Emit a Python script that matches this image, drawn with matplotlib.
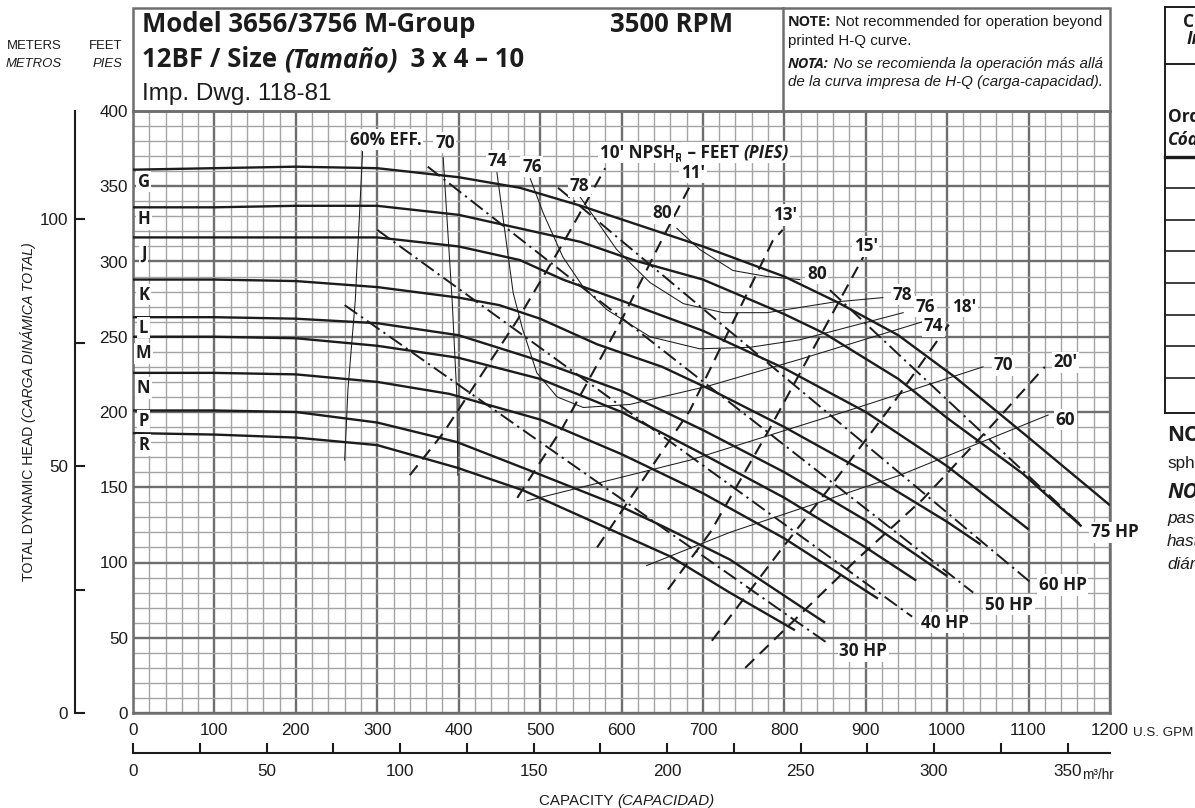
import matplotlib
matplotlib.use('Agg')
import matplotlib.pyplot as plt
from matplotlib import font_manager
from matplotlib.patches import Rectangle
from matplotlib.lines import Line2D
import numpy as np

W, H = 1195, 808

# ---------------- data: capacity in U.S. GPM, head in feet ----------------
gpm_ticks = np.arange(0, 1201, 100)
ft_ticks = np.arange(0, 401, 50)
m_ticks = [0, 50, 100]
m3_ticks = np.arange(0, 351, 25)
GPM_PER_M3H = 3.28          # scale printed on the chart's lower axis
FT_PER_M = 3.28084

# impeller H-Q curves
G_q = [0, 100, 200, 300, 400, 475, 550, 600, 700, 800, 865, 940, 1010, 1100, 1200]
G_h = [361, 362, 363, 362, 356, 349, 337, 328, 310, 290, 273, 251, 223, 183, 138]
H_q = [0, 100, 200, 300, 400, 475, 550, 614, 700, 800, 850, 940, 1000, 1093, 1165]
H_h = [336, 336, 337, 337, 331, 322, 313, 301, 288, 265, 252, 222, 196, 159, 124]
J_q = [0, 100, 200, 300, 400, 475, 528, 600, 650, 700, 800, 900, 1000, 1100]
J_h = [316, 316, 316, 316, 310, 301, 288, 274, 264, 254, 229, 200, 164, 122]
K_q = [0, 100, 200, 300, 400, 450, 500, 570, 650, 709, 800, 900, 1000, 1041]
K_h = [288, 288, 287, 283, 276, 271, 262, 245, 230, 215, 190, 160, 127, 112]
L_q = [0, 100, 200, 300, 400, 488, 600, 700, 800, 900, 1000]
L_h = [263, 263, 262, 259, 251, 236, 214, 188, 160, 128, 91]
M_q = [0, 100, 200, 300, 400, 500, 600, 700, 800, 900, 962]
M_h = [250, 250, 249, 244, 236, 222, 200, 172, 143, 110, 88]
N_q = [0, 100, 200, 300, 389, 500, 600, 700, 800, 915]
N_h = [226, 226, 225, 220, 212, 195, 172, 146, 116, 76]
P_q = [0, 100, 200, 300, 398, 488, 600, 651, 733, 850]
P_h = [201, 201, 200, 193, 180, 161, 137, 124, 102, 60]
R_q = [0, 100, 200, 300, 398, 479, 586, 660, 733, 813]
R_h = [186, 185, 183, 178, 163, 148, 122, 104, 80, 55]
impellers = ['G', 'H', 'J', 'K', 'L', 'M', 'N', 'P', 'R']
imp_label_h = [353, 328, 305, 278, 256, 239, 216, 194, 178]

# horsepower lines
hp_names = ['30 HP', '40 HP', '50 HP', '60 HP', '75 HP']
hp_q0 = [260, 300, 362, 522, 856]
hp_h0 = [271, 321, 363, 349, 281]
hp_q1 = [854, 957, 1032, 1102, 1166]
hp_h1 = [46, 64, 80, 87, 124]
hp_label_q = [897, 997, 1076, 1142, 1206]
hp_label_h = [41, 60, 72, 85, 120]

# efficiency curves
e60a_q = [282, 273, 264, 260]
e60a_h = [373, 274, 215, 168]
e70a_q = [381, 392, 398, 399]
e70a_h = [369, 274, 208, 158]
e74_q = [447, 467, 478, 496, 521, 553, 610, 705, 819, 970]
e74_h = [359, 279, 256, 226, 210, 203, 205, 217, 235, 260]
e76_q = [488, 504, 528, 553, 582, 635, 696, 758, 819, 946]
e76_h = [355, 332, 303, 283, 268, 250, 242, 243, 248, 266]
e78_q = [549, 594, 635, 676, 725, 779, 860, 921]
e78_h = [343, 308, 286, 272, 266, 266, 273, 276]
e80_q = [668, 696, 737, 779, 819]
e80_h = [322, 308, 294, 290, 288]
e70b_q = [484, 684, 879, 1044]
e70b_h = [141, 168, 201, 230]
e60b_q = [631, 733, 942, 1124]
e60b_h = [98, 120, 158, 198]
eff_labels = ['60% EFF.', '70', '74', '76', '78', '80', '80', '78', '76', '74', '70', '60']
eff_label_q = [310, 383, 448, 490, 548, 650, 840, 945, 973, 983, 1069, 1145]
eff_label_h = [381, 379, 367, 363, 350, 332, 292, 278, 270, 257, 231, 195]

# NPSH required lines (feet)
n10_q = [340, 381, 472, 528, 580]
n10_h = [158, 186, 261, 312, 362]
n11_q = [472, 528, 598, 651, 684]
n11_h = [143, 190, 259, 316, 350]
n13_q = [570, 684, 786, 798]
n13_h = [110, 201, 314, 321]
n15_q = [657, 709, 779, 897]
n15_h = [82, 120, 186, 303]
n18_q = [711, 798, 856, 930, 1007]
n18_h = [48, 110, 150, 203, 262]
n20_q = [752, 889, 970, 1053, 1120]
n20_h = [30, 102, 142, 190, 230]
npsh_labels = ["11'", "13'", "15'", "18'", "20'"]
npsh_label_q = [688, 801, 900, 1021, 1145]
npsh_label_h = [359, 331, 310, 270, 233]

# ---------------- fonts ----------------
have = {f.name for f in font_manager.fontManager.ttflist}
NARROW = 'Liberation Sans Narrow' if 'Liberation Sans Narrow' in have else 'Liberation Sans'
k = 1.0 if NARROW == 'Liberation Sans Narrow' else 0.82
BOLD = 'Open Sans'
INK = '#1c1c1c'
GRID_MAJ = '#6e6e6e'
GRID_MIN = '#a4a4a4'

plt.rcParams['lines.scale_dashes'] = False
plt.rcParams['axes.unicode_minus'] = False

fig = plt.figure(figsize=(W / 100, H / 100), dpi=100)
fig.patch.set_facecolor('white')
R = fig.canvas.get_renderer()


def light(size, style='normal'):
    return dict(family=NARROW, fontsize=size * k, style=style, color=INK)


def bold(size, style='normal'):
    return dict(family=BOLD, fontsize=size, weight='bold', style=style, color=INK)


def adv(s, kw):
    a = fig.text(0, 0, '|' + s + '|', **kw)
    b = fig.text(0, 0, '||', **kw)
    w = a.get_window_extent(R).width - b.get_window_extent(R).width
    a.remove()
    b.remove()
    return w


def rich(x, y, parts, ha='left', rot=0, box=False):
    # x, y in display pixels (origin bottom-left); parts = (text, kw, dy)
    ws = [adv(s, kw) for s, kw, dy in parts]
    cur = -sum(ws) / 2 if ha == 'center' else 0.0
    for (s, kw, dy), w in zip(parts, ws):
        px, py = (x + cur, y + dy) if rot == 0 else (x - dy, y + cur)
        extra = {}
        if box:
            extra['bbox'] = dict(fc='white', ec='none', pad=1.2)
        fig.text(px / W, py / H, s, ha='left', va='baseline', rotation=rot,
                 rotation_mode='anchor', zorder=8, **kw, **extra)
        cur += w


def T(px, py, s, kw, ha='left', va='baseline'):
    fig.text(px / W, 1 - py / H, s, ha=ha, va=va, **kw)


# ---------------- main chart ----------------
ax = fig.add_axes([133 / W, 1 - 713 / H, 977 / W, 602 / H])
ax.set_xlim(0, 1200)
ax.set_ylim(0, 400)
ax.set_xticks(gpm_ticks)
ax.set_xticks(np.arange(0, 1201, 20), minor=True)
ax.set_yticks(ft_ticks)
ax.set_yticks(np.arange(0, 401, 10), minor=True)
ax.set_xticklabels([str(v) for v in gpm_ticks], **light(15))
ax.set_yticklabels([str(v) for v in ft_ticks], **light(15))
ax.tick_params(which='both', length=0)
ax.tick_params(axis='x', pad=7)
ax.tick_params(axis='y', pad=3.6)
ax.grid(which='minor', color=GRID_MIN, lw=1.0, zorder=0)
ax.grid(which='major', color=GRID_MAJ, lw=1.7, zorder=0)
ax.set_axisbelow(True)
for s in ax.spines.values():
    s.set_color(GRID_MAJ)
    s.set_linewidth(1.8)

# efficiency curves
for q, h in [(e60a_q, e60a_h), (e70a_q, e70a_h), (e74_q, e74_h), (e76_q, e76_h),
             (e78_q, e78_h), (e80_q, e80_h), (e70b_q, e70b_h), (e60b_q, e60b_h)]:
    ax.plot(q, h, color=INK, lw=0.75, zorder=2)

# NPSH lines
for q, h in [(n10_q, n10_h), (n11_q, n11_h), (n13_q, n13_h), (n15_q, n15_h),
             (n18_q, n18_h), (n20_q, n20_h)]:
    ax.plot(q, h, color=INK, lw=1.5, ls=(0, (9, 5.5)), zorder=3)

# horsepower lines
for i in range(len(hp_names)):
    ax.plot([hp_q0[i], hp_q1[i]], [hp_h0[i], hp_h1[i]], color=INK, lw=1.4,
            ls=(0, (11, 3.5, 1.6, 3.5)), zorder=3)

# impeller curves
curves = {'G': (G_q, G_h), 'H': (H_q, H_h), 'J': (J_q, J_h), 'K': (K_q, K_h),
          'L': (L_q, L_h), 'M': (M_q, M_h), 'N': (N_q, N_h), 'P': (P_q, P_h),
          'R': (R_q, R_h)}
for name in impellers:
    q, h = curves[name]
    ax.plot(q, h, color=INK, lw=1.7, solid_capstyle='butt', zorder=4)

box = dict(fc='white', ec='none', pad=1.2)
for name, lh in zip(impellers, imp_label_h):
    ax.text(13, lh, name, ha='center', va='center', bbox=box, zorder=6, **bold(12))
for s, q, h in zip(hp_names, hp_label_q, hp_label_h):
    ax.text(q, h, s, ha='center', va='center', bbox=box, zorder=6, **bold(12.3))
for s, q, h in zip(eff_labels, eff_label_q, eff_label_h):
    ax.text(q, h, s, ha='center', va='center', bbox=box, zorder=6, **bold(12.3))
for s, q, h in zip(npsh_labels, npsh_label_q, npsh_label_h):
    ax.text(q, h, s, ha='center', va='center', bbox=box, zorder=6, **bold(12.3))

# "10' NPSH_R - FEET (PIES)"
x0, y0 = ax.transData.transform((573, 369))
rich(x0, y0, [("10' NPSH", bold(12.3), 0), ("R", bold(8.5), -4),
              (" – FEET ", bold(12.3), 0), ("(PIES)", bold(12.3, 'italic'), 0)], box=True)

# ---------------- meters axis ----------------
axm = fig.add_axes([75 / W, 1 - 713 / H, 2 / W, 602 / H])
axm.set_ylim(0, 400 / FT_PER_M)
axm.patch.set_alpha(0)
for s in ['right', 'top', 'bottom']:
    axm.spines[s].set_visible(False)
axm.spines['left'].set_color(INK)
axm.spines['left'].set_linewidth(1.5)
axm.set_xticks([])
axm.set_yticks(m_ticks)
axm.set_yticks([25, 75], minor=True)
axm.set_yticklabels([str(v) for v in m_ticks], **light(15))
axm.tick_params(axis='y', which='both', direction='in', length=7, width=1.5,
                color=INK, pad=5)

# ---------------- m3/hr axis ----------------
axc = fig.add_axes([133 / W, 1 - 753 / H, 977 / W, 1 / H])
axc.set_xlim(0, 1200 / GPM_PER_M3H)
axc.patch.set_alpha(0)
for s in ['left', 'right', 'top']:
    axc.spines[s].set_visible(False)
axc.spines['bottom'].set_color(INK)
axc.spines['bottom'].set_linewidth(1.5)
axc.set_yticks([])
axc.set_xticks(m3_ticks)
axc.set_xticklabels([str(v) if v % 50 == 0 else '' for v in m3_ticks], **light(15))
axc.tick_params(axis='x', direction='in', length=7, width=1.5, color=INK, pad=8)

# ---------------- header box ----------------
fig.patches.append(Rectangle((133 / W, 1 - 111 / H), 977 / W, 103 / H, transform=fig.transFigure,
                             fill=False, ec=GRID_MAJ, lw=1.8))
fig.lines.append(Line2D([783 / W, 783 / W], [1 - 8 / H, 1 - 111 / H], transform=fig.transFigure,
                        color=GRID_MAJ, lw=1.8))
T(142, 32, 'Model 3656/3756 M-Group', bold(18.5))
T(610, 32, '3500 RPM', bold(18.5))
rich(142, H - 67, [('12BF / Size ', bold(18.5), 0), ('(Tamaño)', bold(18.5, 'italic'), 0),
                   ('  3 x 4 – 10', bold(18.5), 0)])
T(142, 100, 'Imp. Dwg. 118-81', light(21.3))
rich(788, H - 26, [('NOTE:', bold(10.4), 0), (' Not recommended for operation beyond', light(13.3), 0)])
T(788, 45, 'printed H-Q curve.', light(13.3))
rich(788, H - 68, [('NOTA:', bold(10.4, 'italic'), 0),
                   (' No se recomienda la operación más allá', light(13.3, 'italic'), 0)])
T(788, 86, 'de la curva impresa de H-Q (carga-capacidad).', light(13.3, 'italic'))

# ---------------- axis titles ----------------
T(62, 49, 'METERS', light(11.5), ha='right')
T(62, 67, 'METROS', light(11.5, 'italic'), ha='right')
T(122, 49, 'FEET', light(11.5), ha='right')
T(122, 67, 'PIES', light(11.5, 'italic'), ha='right')
rich(33, H - 412, [('TOTAL DYNAMIC HEAD ', light(12.4), 0),
                   ('(CARGA DINÁMICA TOTAL)', light(12.4, 'italic'), 0)], ha='center', rot=90)
rich(627, H - 805, [('CAPACITY ', light(13.3), 0), ('(CAPACIDAD)', light(13.3, 'italic'), 0)],
     ha='center')
T(1133, 736, 'U.S. GPM', light(11.7))
T(1082, 779, 'm³/hr', light(12))

# ---------------- table at the right edge (cut off by the page) ----------------
fig.lines.append(Line2D([1165 / W, 1165 / W], [1 - 7 / H, 1 - 413 / H], transform=fig.transFigure,
                        color=INK, lw=1.4))
for yy, lw in [(7, 1.4), (64, 1.4), (157, 2.4), (188, 1.2), (220, 1.2), (251, 1.2),
               (283, 1.2), (315, 1.2), (346, 1.2), (378, 1.2), (413, 1.4)]:
    fig.lines.append(Line2D([1165 / W, 1 + 0.01], [1 - yy / H, 1 - yy / H],
                            transform=fig.transFigure, color=INK, lw=lw))
T(1183, 27, 'Curva', bold(12.5))
T(1187, 44, 'Impulsor', bold(12.5, 'italic'))
T(1168, 122, 'Order', bold(12.5))
T(1168, 145, 'Código', bold(12.5, 'italic'))
T(1167, 441, 'NOTE:', bold(15))
T(1167, 468, 'spheres', light(15))
T(1167, 498, 'NOTA:', bold(15, 'italic'))
T(1167, 523, 'pasa', light(15, 'italic'))
T(1167, 546, 'hasta', light(15, 'italic'))
T(1167, 569, 'diámetro', light(15, 'italic'))

fig.savefig('out.png', dpi=100, facecolor='white')
